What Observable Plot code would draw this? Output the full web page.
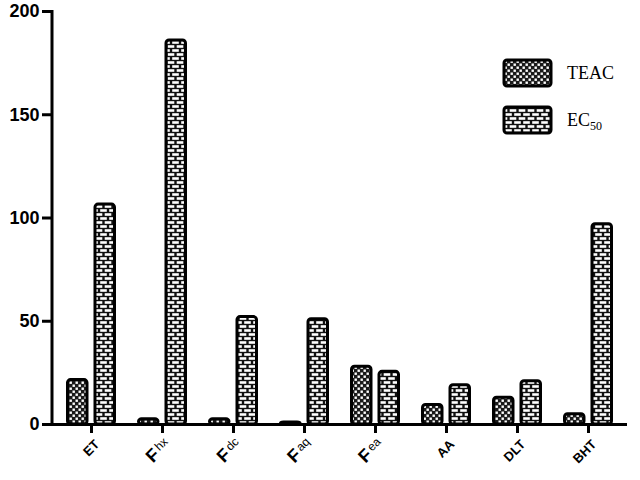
<!DOCTYPE html>
<html><head><meta charset="utf-8">
<script src="https://cdn.jsdelivr.net/npm/d3@7"></script>
<script src="https://cdn.jsdelivr.net/npm/@observablehq/plot@0.6"></script>
<style>
body{margin:0;background:#fff}
#chart{position:relative;width:640px;height:480px}
</style>
</head><body>
<svg width="0" height="0" style="position:absolute">
  <defs>
    <pattern id="pTEAC" width="6" height="6" patternUnits="userSpaceOnUse">
      <rect width="6" height="6" fill="#1a1a1a"/>
      <rect x="0.5" y="0.5" width="2.4" height="2.4" fill="#fff"/>
      <rect x="3.5" y="3.5" width="2.4" height="2.4" fill="#fff"/>
    </pattern>
    <pattern id="pEC50" width="9" height="8" patternUnits="userSpaceOnUse">
      <rect width="9" height="8" fill="#111"/>
      <rect x="1.2" y="1.2" width="6.6" height="2.6" fill="#fff"/>
      <rect x="-3.3" y="5.2" width="6.6" height="2.6" fill="#fff"/>
      <rect x="5.7" y="5.2" width="6.6" height="2.6" fill="#fff"/>
    </pattern>
  </defs>
</svg>
<div id="chart"></div>
<script>
const categories = ["ET", "Fhx", "Fdc", "Faq", "Fea", "AA", "DLT", "BHT"];
const teac = [21.5, 2.5, 2.5, 1, 28, 9.5, 13, 5];
const ec50 = [106.5, 186, 52, 51, 25.5, 19, 21, 97];
const series = ["TEAC", "EC50"];
const yTicks = [0, 50, 100, 150, 200];

const teacRows = categories.map((c, i) => ({cat: c, series: "TEAC", value: teac[i]}));
const ec50Rows = categories.map((c, i) => ({cat: c, series: "EC50", value: ec50[i]}));

const chart = Plot.plot({
  width: 640, height: 480,
  marginLeft: 52, marginRight: 13, marginTop: 11, marginBottom: 56,
  style: {fontFamily: "'Liberation Sans', Arial, sans-serif", background: "#fff", color: "#000"},
  x: {domain: categories, paddingInner: 0.3, paddingOuter: 0.15, label: null},
  y: {domain: [0, 200], label: null},
  color: {domain: series, range: ["url(#pTEAC)", "url(#pEC50)"]},
  marks: [
    Plot.barY(teacRows, {x: "cat", y: "value", fill: "series", stroke: "#000", strokeWidth: 3, rx: 3, insetLeft: 1.5, insetRight: 29}),
    Plot.barY(ec50Rows, {x: "cat", y: "value", fill: "series", stroke: "#000", strokeWidth: 3, rx: 3, insetLeft: 29, insetRight: 1.5}),
    Plot.ruleY([0], {strokeWidth: 3}),
    Plot.axisY({ticks: yTicks, tickSize: 10, tickPadding: 3, strokeWidth: 3, fontSize: 18, fontWeight: "bold", label: null}),
    Plot.axisX({tickSize: 9, strokeWidth: 3, fontSize: 13, fontWeight: "bold", label: null})
  ]
});

const svg = d3.select(chart);
const y = chart.scale("y");
const xs = chart.scale("x");
// y axis line
svg.append("line")
  .attr("x1", 52).attr("x2", 52)
  .attr("y1", y.range[1] - 1).attr("y2", y.range[0] + 1.5)
  .attr("stroke", "#000").attr("stroke-width", 3);

// replace Plot's horizontal tick labels by rotated, rich ones (F with small suffix)
svg.selectAll('g[aria-label="x-axis tick label"]').remove();
const baseY = y.range[0];
const lbl = svg.append("g")
  .attr("font-family", "'Liberation Sans', Arial, sans-serif")
  .attr("font-weight", "bold").attr("font-size", 13).attr("fill", "#000");
categories.forEach(cat => {
  const cx = xs.apply(cat) + xs.bandwidth / 2;
  const t = lbl.append("text").attr("x", 0).attr("y", 0)
    .attr("text-anchor", "end").attr("dy", "0.35em")
    .style("transform-origin", "0 0")
    .style("transform", `translate(${cx + 6}px, ${baseY + 18}px) rotate(-45deg)`);
  const m = /^F([a-z]+)$/.exec(cat);
  if (m) {
    t.append("tspan").attr("font-size", 18).text("F");
    t.append("tspan").attr("font-size", 12).attr("font-weight", "normal").attr("dy", -4).attr("dx", 2).text(m[1]);
  } else {
    t.text(cat);
  }
});

// legend
const lg = svg.append("g").attr("font-family", "'Liberation Serif', 'Times New Roman', serif").attr("font-size", 18).attr("text-anchor", "start");
const legendItems = [{key: "TEAC", y: 60}, {key: "EC50", y: 107}];
legendItems.forEach(it => {
  lg.append("rect").attr("x", 504).attr("y", it.y).attr("width", 47).attr("height", 26)
    .attr("rx", 3).attr("fill", `url(#p${it.key})`).attr("stroke", "#000").attr("stroke-width", 3);
  const t = lg.append("text").attr("x", 567).attr("y", it.y + 19).attr("text-anchor", "start");
  if (it.key === "EC50") {
    t.append("tspan").text("EC");
    t.append("tspan").attr("font-size", 12).attr("dy", 4).text("50");
  } else {
    t.text(it.key);
  }
});

document.getElementById("chart").appendChild(chart);
</script>
</body></html>
